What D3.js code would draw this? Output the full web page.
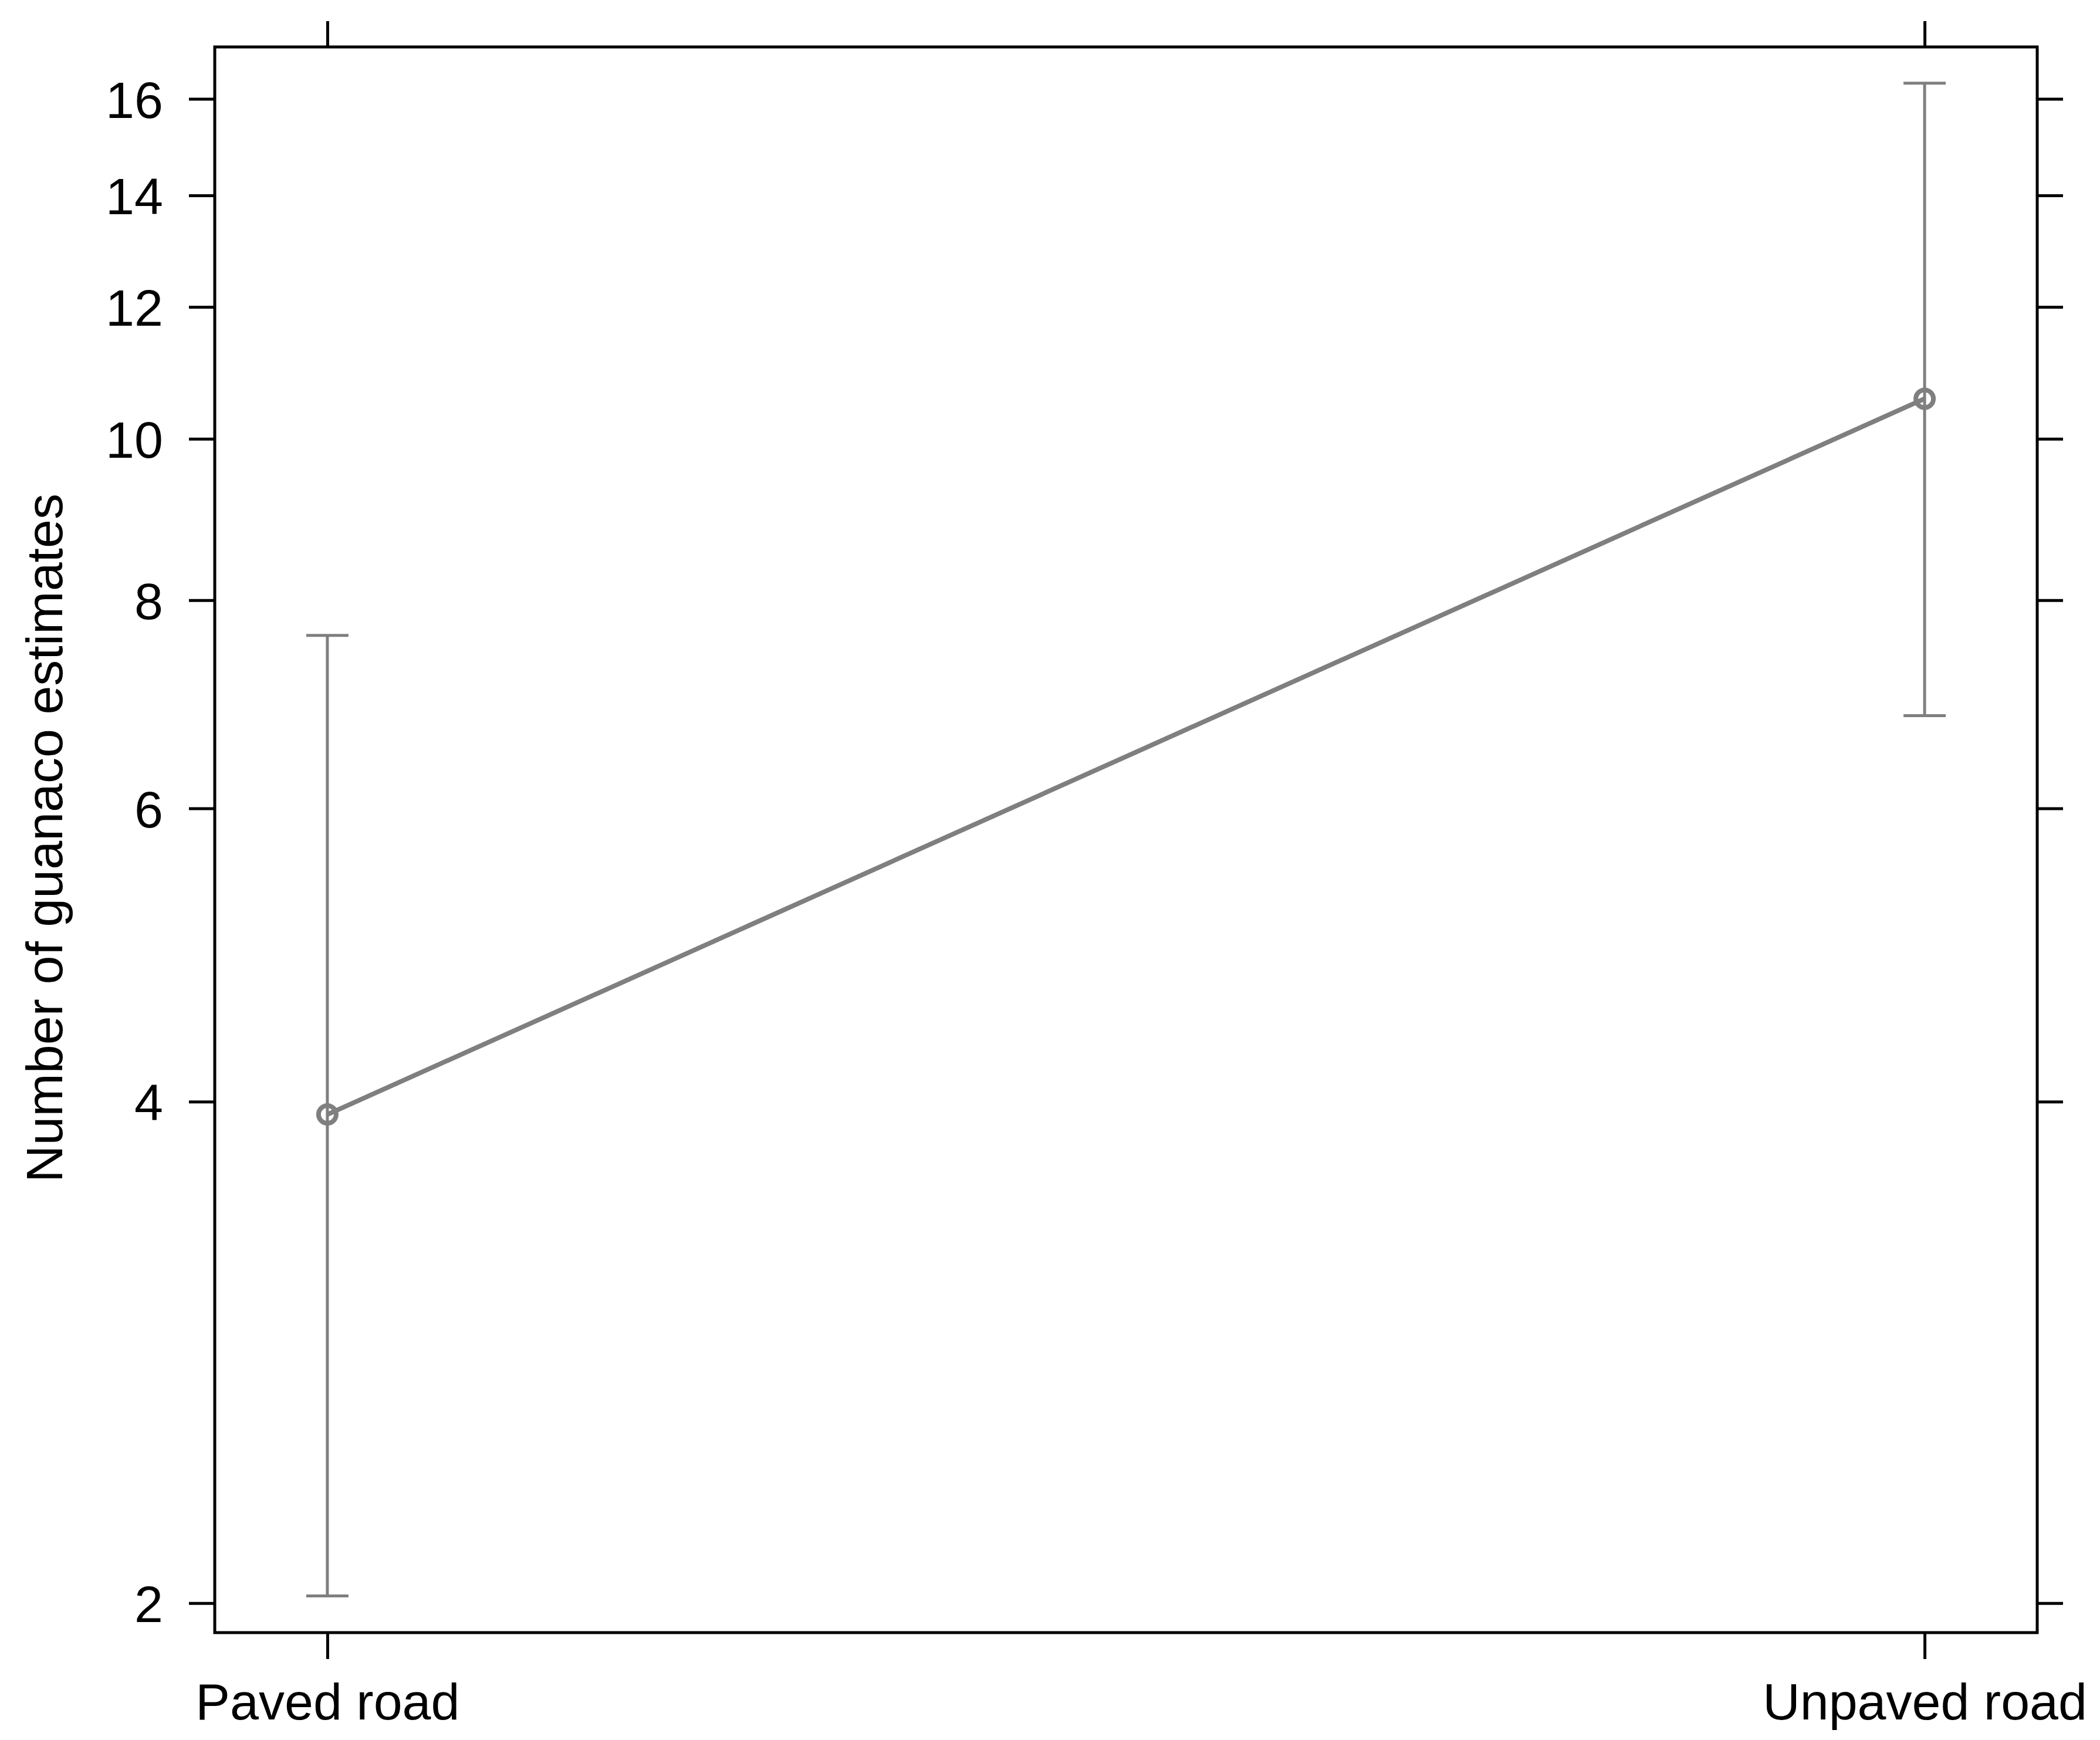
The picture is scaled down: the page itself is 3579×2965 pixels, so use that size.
<!DOCTYPE html>
<html>
<head>
<meta charset="utf-8">
<script src="https://cdn.jsdelivr.net/npm/d3@7"></script>
<style>
  body { margin: 0; background: #fff; }
  text { font-family: "Liberation Sans", Arial, sans-serif; }
</style>
</head>
<body>
<div id="chart"></div>
<script>
// data
const roads = ["Paved road", "Unpaved road"];
const estimate = [3.93, 10.57];
const lower = [2.02, 6.82];
const upper = [7.62, 16.35];
const yTicks = [2, 4, 6, 8, 10, 12, 14, 16];

const W = 3579, H = 2965;
const frame = { left: 366, right: 3472, top: 80, bottom: 2782 };

const svg = d3.select('#chart')
    .append('svg')
    .attr('width', W)
    .attr('height', H);

// scales
const x = d3.scalePoint()
    .domain(roads)
    .range([frame.left, frame.right])
    .padding(0.0705);

const y = d3.scaleLog()
    .domain([1.92, 17.19])
    .range([frame.bottom, frame.top]);

const fontSize = 88;
const gray = '#7f7f7f';

// axes on all four sides, like the lattice box
function styleAxis(g) {
    g.select('.domain').remove();
    g.selectAll('.tick line').attr('stroke', '#000').attr('stroke-width', 5);
    g.selectAll('.tick text').attr('fill', '#000').style('font-size', fontSize + 'px');
}

svg.append('g')
    .attr('transform', `translate(${frame.left},0)`)
    .call(d3.axisLeft(y).tickValues(yTicks).tickFormat(d3.format('d')).tickSize(44).tickPadding(44))
    .call(styleAxis)
    .selectAll('.tick text').attr('dy', '0.36em');

svg.append('g')
    .attr('transform', `translate(${frame.right},0)`)
    .call(d3.axisRight(y).tickValues(yTicks).tickFormat('').tickSize(44))
    .call(styleAxis);

svg.append('g')
    .attr('transform', `translate(0,${frame.bottom})`)
    .call(d3.axisBottom(x).tickSize(45).tickPadding(41))
    .call(styleAxis);

svg.append('g')
    .attr('transform', `translate(0,${frame.top})`)
    .call(d3.axisTop(x).tickFormat('').tickSize(44))
    .call(styleAxis);

// panel border
svg.append('rect')
    .attr('x', frame.left)
    .attr('y', frame.top)
    .attr('width', frame.right - frame.left)
    .attr('height', frame.bottom - frame.top)
    .attr('fill', 'none')
    .attr('stroke', '#000')
    .attr('stroke-width', 5);

// error bars
const capHalf = 36;
roads.forEach((r, i) => {
    const g = svg.append('g')
        .attr('stroke', gray)
        .attr('stroke-width', 5);
    g.append('line')
        .attr('x1', x(r)).attr('x2', x(r))
        .attr('y1', y(lower[i])).attr('y2', y(upper[i]));
    [lower[i], upper[i]].forEach(v => {
        g.append('line')
            .attr('x1', x(r) - capHalf).attr('x2', x(r) + capHalf)
            .attr('y1', y(v)).attr('y2', y(v));
    });
});

// estimate line and points
const line = d3.line()
    .x((d, i) => x(roads[i]))
    .y(d => y(d));

svg.append('path')
    .datum(estimate)
    .attr('fill', 'none')
    .attr('stroke', gray)
    .attr('stroke-width', 8)
    .attr('d', line);

svg.selectAll('circle.pt')
    .data(estimate)
    .join('circle')
    .attr('class', 'pt')
    .attr('cx', (d, i) => x(roads[i]))
    .attr('cy', d => y(d))
    .attr('r', 15)
    .attr('fill', 'none')
    .attr('stroke', gray)
    .attr('stroke-width', 8);

// y axis title
svg.append('text')
    .attr('transform', 'translate(106,1428) rotate(-90)')
    .attr('text-anchor', 'middle')
    .style('font-size', fontSize + 'px')
    .text('Number of guanaco estimates');
</script>
</body>
</html>
